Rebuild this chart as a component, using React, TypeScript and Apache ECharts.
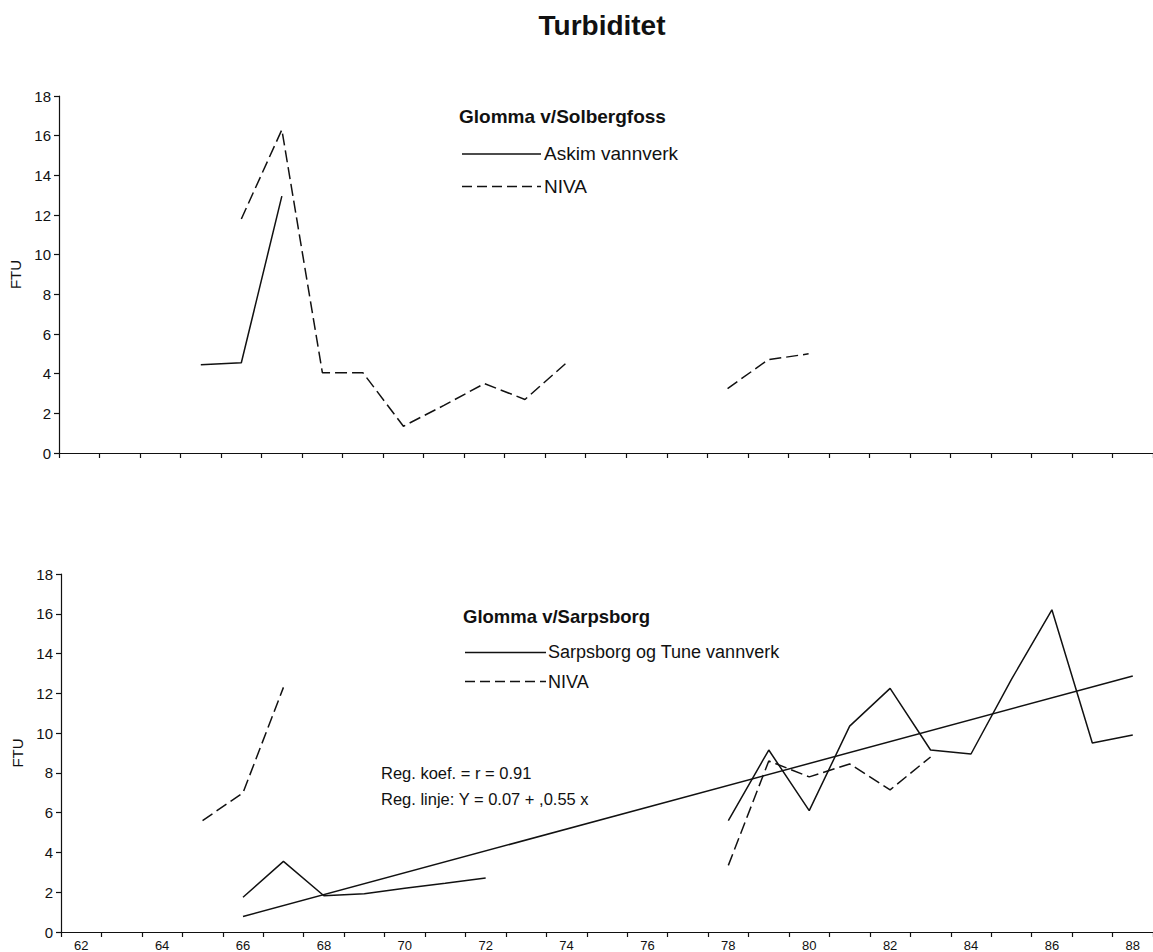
import React, { useEffect, useRef } from "react";
import * as echarts from "echarts";

const years = ["62","63","64","65","66","67","68","69","70","71","72","73","74","75","76","77","78","79","80","81","82","83","84","85","86","87","88"];

const yTicks = { min: 0, max: 18, interval: 2 };

// Glomma v/Solbergfoss
const askim = [null,null,null,4.45,4.55,12.95,null,null,null,null,null,null,null,null,null,null,null,null,null,null,null,null,null,null,null,null,null];
const solbergNiva = [null,null,null,null,11.8,16.3,4.05,4.05,1.35,2.4,3.5,2.7,4.5,null,null,null,3.25,4.7,5.0,null,null,null,null,null,null,null,null];

// Glomma v/Sarpsborg
const sarpsborg = [null,null,null,null,1.75,3.55,1.82,1.92,2.2,2.45,2.72,null,null,null,null,null,5.6,9.15,6.1,10.35,12.25,9.15,8.95,12.7,16.2,9.5,9.9];
const sarpsNiva = [null,null,null,5.6,7.0,12.3,null,null,null,null,null,null,null,null,null,null,3.35,8.6,7.8,8.45,7.15,8.8,null,null,null,null,null];
const regression = [null,null,null,null,0.78,null,null,null,null,null,null,null,null,null,null,null,null,null,null,null,null,null,null,null,null,null,12.87];

const titleText = "Turbiditet";
const topHeader = "Glomma v/Solbergfoss";
const topSolidLabel = "Askim vannverk";
const bottomHeader = "Glomma v/Sarpsborg";
const bottomSolidLabel = "Sarpsborg og Tune vannverk";
const nivaLabel = "NIVA";
const regKoef = "Reg. koef. = r = 0.91";
const regLinje = "Reg. linje: Y = 0.07 + ,0.55 x";

const FONT = "'Liberation Sans', Arial, Helvetica, sans-serif";
const INK = "#111";
const DASH = [12, 5];

function makeXAxis(gridIndex: number, showLabels: boolean) {
  return {
    type: "category",
    gridIndex,
    data: years,
    boundaryGap: true,
    axisLine: { show: true, lineStyle: { color: INK, width: 1.2 } },
    axisTick: { show: true, interval: 0, length: 5, inside: false, lineStyle: { color: INK, width: 1.2 } },
    axisLabel: {
      show: showLabels,
      interval: 1,
      margin: 7,
      color: INK,
      fontSize: 13,
      fontFamily: FONT,
    },
    splitLine: { show: false },
  };
}

function makeYAxis(gridIndex: number, nameGap: number) {
  return {
    type: "value",
    gridIndex,
    min: yTicks.min,
    max: yTicks.max,
    interval: yTicks.interval,
    name: "FTU",
    nameLocation: "middle",
    nameRotate: 90,
    nameGap,
    nameTextStyle: { color: INK, fontSize: 15, fontFamily: FONT },
    axisLine: { show: true, lineStyle: { color: INK, width: 1.2 } },
    axisTick: { show: true, length: 5, lineStyle: { color: INK, width: 1.2 } },
    axisLabel: { color: INK, fontSize: 15, fontFamily: FONT, margin: 8 },
    splitLine: { show: false },
  };
}

function lineSeries(name: string, data: (number | null)[], axisIndex: number, dashed: boolean, connect = false) {
  return {
    name,
    type: "line",
    xAxisIndex: axisIndex,
    yAxisIndex: axisIndex,
    data,
    showSymbol: false,
    symbol: "none",
    connectNulls: connect,
    lineStyle: { color: INK, width: 1.5, type: dashed ? DASH : "solid" },
    silent: true,
  };
}

function txt(text: string, x: number, y: number, size: number, bold = false, align = "left") {
  return {
    type: "text",
    x,
    y,
    silent: true,
    style: {
      text,
      fill: INK,
      fontSize: size,
      fontFamily: FONT,
      fontWeight: bold ? "bold" : "normal",
      align,
      verticalAlign: "middle",
    },
  };
}

function seg(x1: number, x2: number, y: number, dashed: boolean) {
  return {
    type: "line",
    silent: true,
    shape: { x1, y1: y, x2, y2: y },
    style: { stroke: INK, lineWidth: 1.3, lineDash: dashed ? [10, 5] : null },
  };
}

export default function App() {
  const ref = useRef<HTMLDivElement>(null);

  useEffect(() => {
    if (!ref.current) return;
    const chart = echarts.init(ref.current, undefined, { renderer: "svg" });
    chart.setOption({
      animation: false,
      backgroundColor: "#fff",
      grid: [
        { left: 59, top: 96, width: 1094, height: 357 },
        { left: 61, top: 574, width: 1092, height: 360 },
      ],
      xAxis: [makeXAxis(0, false), makeXAxis(1, true)],
      yAxis: [makeYAxis(0, 31), makeYAxis(1, 33)],
      series: [
        lineSeries(topSolidLabel, askim, 0, false),
        lineSeries("NIVA (Solbergfoss)", solbergNiva, 0, true),
        lineSeries(bottomSolidLabel, sarpsborg, 1, false),
        lineSeries("NIVA (Sarpsborg)", sarpsNiva, 1, true),
        lineSeries("Regresjon", regression, 1, false, true),
      ],
      graphic: [
        txt(titleText, 602, 25, 28, true, "center"),
        txt(topHeader, 459, 116, 19, true),
        seg(462, 541, 154, false),
        txt(topSolidLabel, 544, 153, 19),
        seg(462, 541, 186.5, true),
        txt(nivaLabel, 544, 186.5, 19),
        txt(bottomHeader, 463, 616.5, 18.5, true),
        seg(465, 546, 652.5, false),
        txt(bottomSolidLabel, 548, 652, 18),
        seg(465, 546, 681.5, true),
        txt(nivaLabel, 548, 681.5, 18),
        txt(regKoef, 381, 773, 16.5),
        txt(regLinje, 381, 799, 16.5),
      ],
    });
    return () => chart.dispose();
  }, []);

  return (
    <div
      ref={ref}
      style={{ position: "absolute", left: 0, top: 0, width: 1153, height: 952, background: "#fff" }}
    />
  );
}
